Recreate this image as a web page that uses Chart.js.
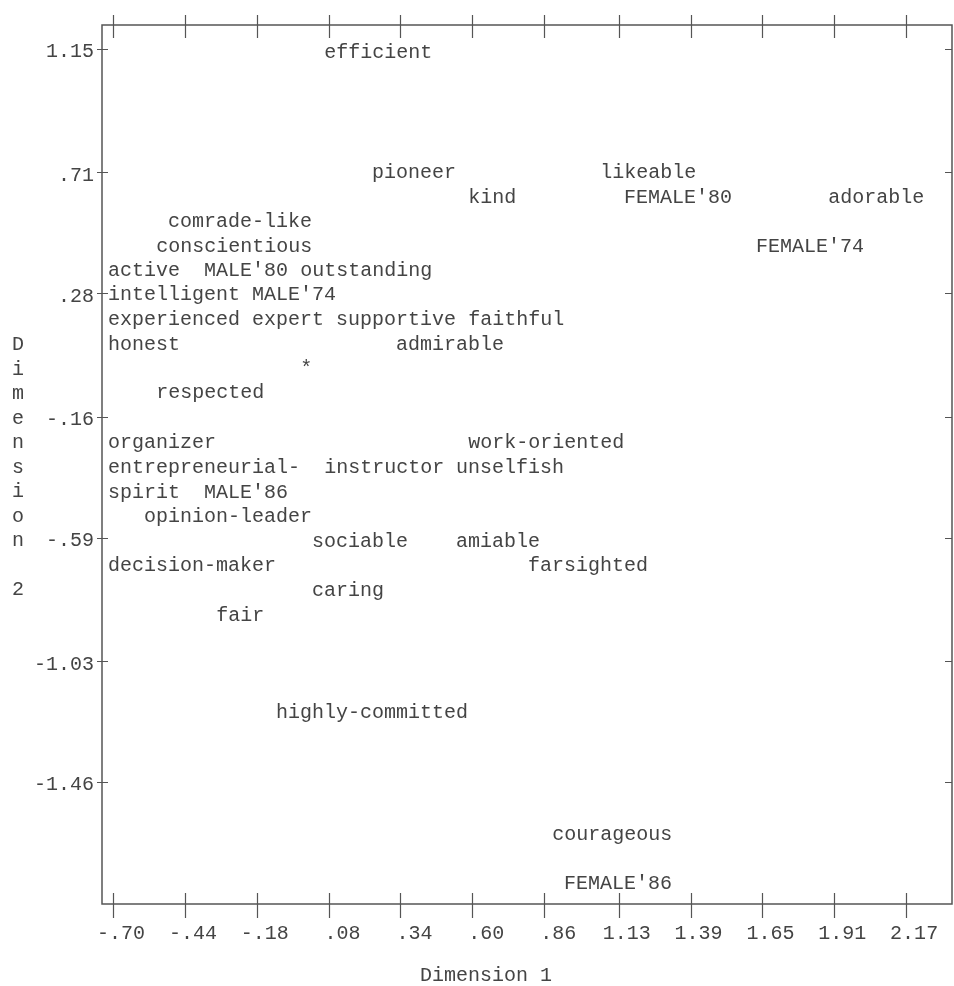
<!DOCTYPE html>
<html>
<head>
<meta charset="utf-8">
<script src="https://cdn.jsdelivr.net/npm/chart.js@4.4.1/dist/chart.umd.min.js"></script>
<style>
  html, body { margin: 0; padding: 0; background: #fff; }
  #wrap { width: 954px; height: 986px; }
</style>
</head>
<body>
<div id="wrap"><canvas id="mdsChart"></canvas></div>
<script>
// attribute / group labels and their MDS coordinates (label starts at the point)
const labels = [
  "efficient", "pioneer", "likeable", "kind", "FEMALE'80", "adorable",
  "comrade-like", "conscientious", "FEMALE'74",
  "active", "MALE'80", "outstanding", "intelligent", "MALE'74",
  "experienced", "expert", "supportive", "faithful",
  "honest", "admirable", "*", "respected",
  "organizer", "work-oriented", "entrepreneurial-", "instructor", "unselfish",
  "spirit", "MALE'86", "opinion-leader", "sociable", "amiable",
  "decision-maker", "farsighted", "caring", "fair",
  "highly-committed", "courageous", "FEMALE'86"
];
const dim1 = [
  0.064, 0.237, 1.063, 0.585, 1.149, 1.888,
  -0.501, -0.544, 1.627,
  -0.718, -0.371, -0.023, -0.718, -0.197,
  -0.718, -0.197, 0.107, 0.585,
  -0.718, 0.324, -0.023, -0.544,
  -0.718, 0.585, -0.718, 0.064, 0.541,
  -0.718, -0.371, -0.588, 0.020, 0.541,
  -0.718, 0.802, 0.020, -0.327,
  -0.110, 0.889, 0.932
];
const dim2 = [
  1.136, 0.708, 0.708, 0.619, 0.619, 0.619,
  0.534, 0.445, 0.445,
  0.359, 0.359, 0.359, 0.274, 0.274,
  0.185, 0.185, 0.185, 0.185,
  0.096, 0.096, 0.010, -0.075,
  -0.253, -0.253, -0.342, -0.342, -0.342,
  -0.431, -0.431, -0.517, -0.606, -0.606,
  -0.691, -0.691, -0.777, -0.866,
  -1.212, -1.646, -1.820
];

const xTicks = [-0.70, -0.44, -0.18, 0.08, 0.34, 0.60, 0.86, 1.13, 1.39, 1.65, 1.91, 2.17];
const xTickLabels = ["-.70", "-.44", "-.18", ".08", ".34", ".60", ".86", "1.13", "1.39", "1.65", "1.91", "2.17"];
const yTicks = [1.15, 0.71, 0.28, -0.16, -0.59, -1.03, -1.46];
const yTickLabels = ["1.15", ".71", ".28", "-.16", "-.59", "-1.03", "-1.46"];

const MONO = "'Liberation Mono', 'DejaVu Sans Mono', monospace";
const INK = "#444";
const LINE = "#555";

// draws the box, the crossing tick marks, the point labels and the stacked y title
const printPlot = {
  id: "printPlot",
  afterDatasetsDraw(chart) {
    const { ctx, chartArea: a, scales: { x, y } } = chart;
    ctx.save();
    ctx.strokeStyle = LINE;
    ctx.lineWidth = 1.5;
    ctx.strokeRect(a.left, a.top, a.right - a.left, a.bottom - a.top);

    ctx.beginPath();
    xTicks.forEach(v => {
      const px = Math.round(x.getPixelForValue(v)) + 0.5;
      ctx.moveTo(px, a.top - 10); ctx.lineTo(px, a.top + 13);
      ctx.moveTo(px, a.bottom - 11); ctx.lineTo(px, a.bottom + 14);
    });
    yTicks.forEach(v => {
      const py = Math.round(y.getPixelForValue(v)) + 0.5;
      ctx.moveTo(a.left - 5, py); ctx.lineTo(a.left + 6, py);
      ctx.moveTo(a.right - 7, py); ctx.lineTo(a.right, py);
    });
    ctx.lineWidth = 1.2;
    ctx.stroke();

    ctx.fillStyle = INK;
    ctx.font = "20px " + MONO;
    ctx.textAlign = "left";
    ctx.textBaseline = "middle";
    const meta = chart.getDatasetMeta(0);
    meta.data.forEach((pt, i) => {
      ctx.fillText(labels[i], pt.x, pt.y);
    });

    // "Dimension 2" written one character per line
    const title = "Dimension 2";
    const step = 24.5;
    const mid = (a.top + a.bottom) / 2 + 3;
    ctx.textAlign = "center";
    [...title].forEach((ch, i) => {
      ctx.fillText(ch, 18, mid + (i - (title.length - 1) / 2) * step);
    });

    ctx.fillText("Dimension 1", a.left + 384, a.bottom + 72);
    ctx.restore();
  }
};

new Chart(document.getElementById("mdsChart"), {
  type: "scatter",
  data: {
    datasets: [
      {
        data: labels.map((_, i) => ({ x: dim1[i], y: dim2[i] })),
        pointRadius: 0,
        pointHoverRadius: 0,
      },
    ],
  },
  options: {
    responsive: true,
    maintainAspectRatio: false,
    animation: false,
    devicePixelRatio: 1,
    layout: { padding: { top: 25, right: 2, left: 0, bottom: 0 } },
    plugins: { legend: { display: false }, tooltip: { enabled: false } },
    scales: {
      x: {
        type: "linear",
        min: -0.74,
        max: 2.336,
        afterBuildTicks: (s) => { s.ticks = xTicks.map(v => ({ value: v })); },
        afterFit: (s) => { s.height = 82; },
        grid: { display: false, drawTicks: false },
        border: { display: false },
        ticks: {
          autoSkip: false,
          maxRotation: 0,
          align: "end",
          labelOffset: 32,
          padding: 18,
          color: INK,
          font: { family: MONO, size: 20 },
          callback: (v, i) => xTickLabels[i],
        },
      },
      y: {
        type: "linear",
        min: -1.894,
        max: 1.235,
        afterBuildTicks: (s) => { s.ticks = yTicks.map(v => ({ value: v })); },
        afterFit: (s) => { s.width = 102; },
        grid: { display: false, drawTicks: false },
        border: { display: false },
        ticks: {
          autoSkip: false,
          padding: 8,
          labelOffset: 3,
          color: INK,
          font: { family: MONO, size: 20 },
          callback: (v, i) => yTickLabels[i],
        },
      },
    },
  },
  plugins: [printPlot],
});
</script>
</body>
</html>
